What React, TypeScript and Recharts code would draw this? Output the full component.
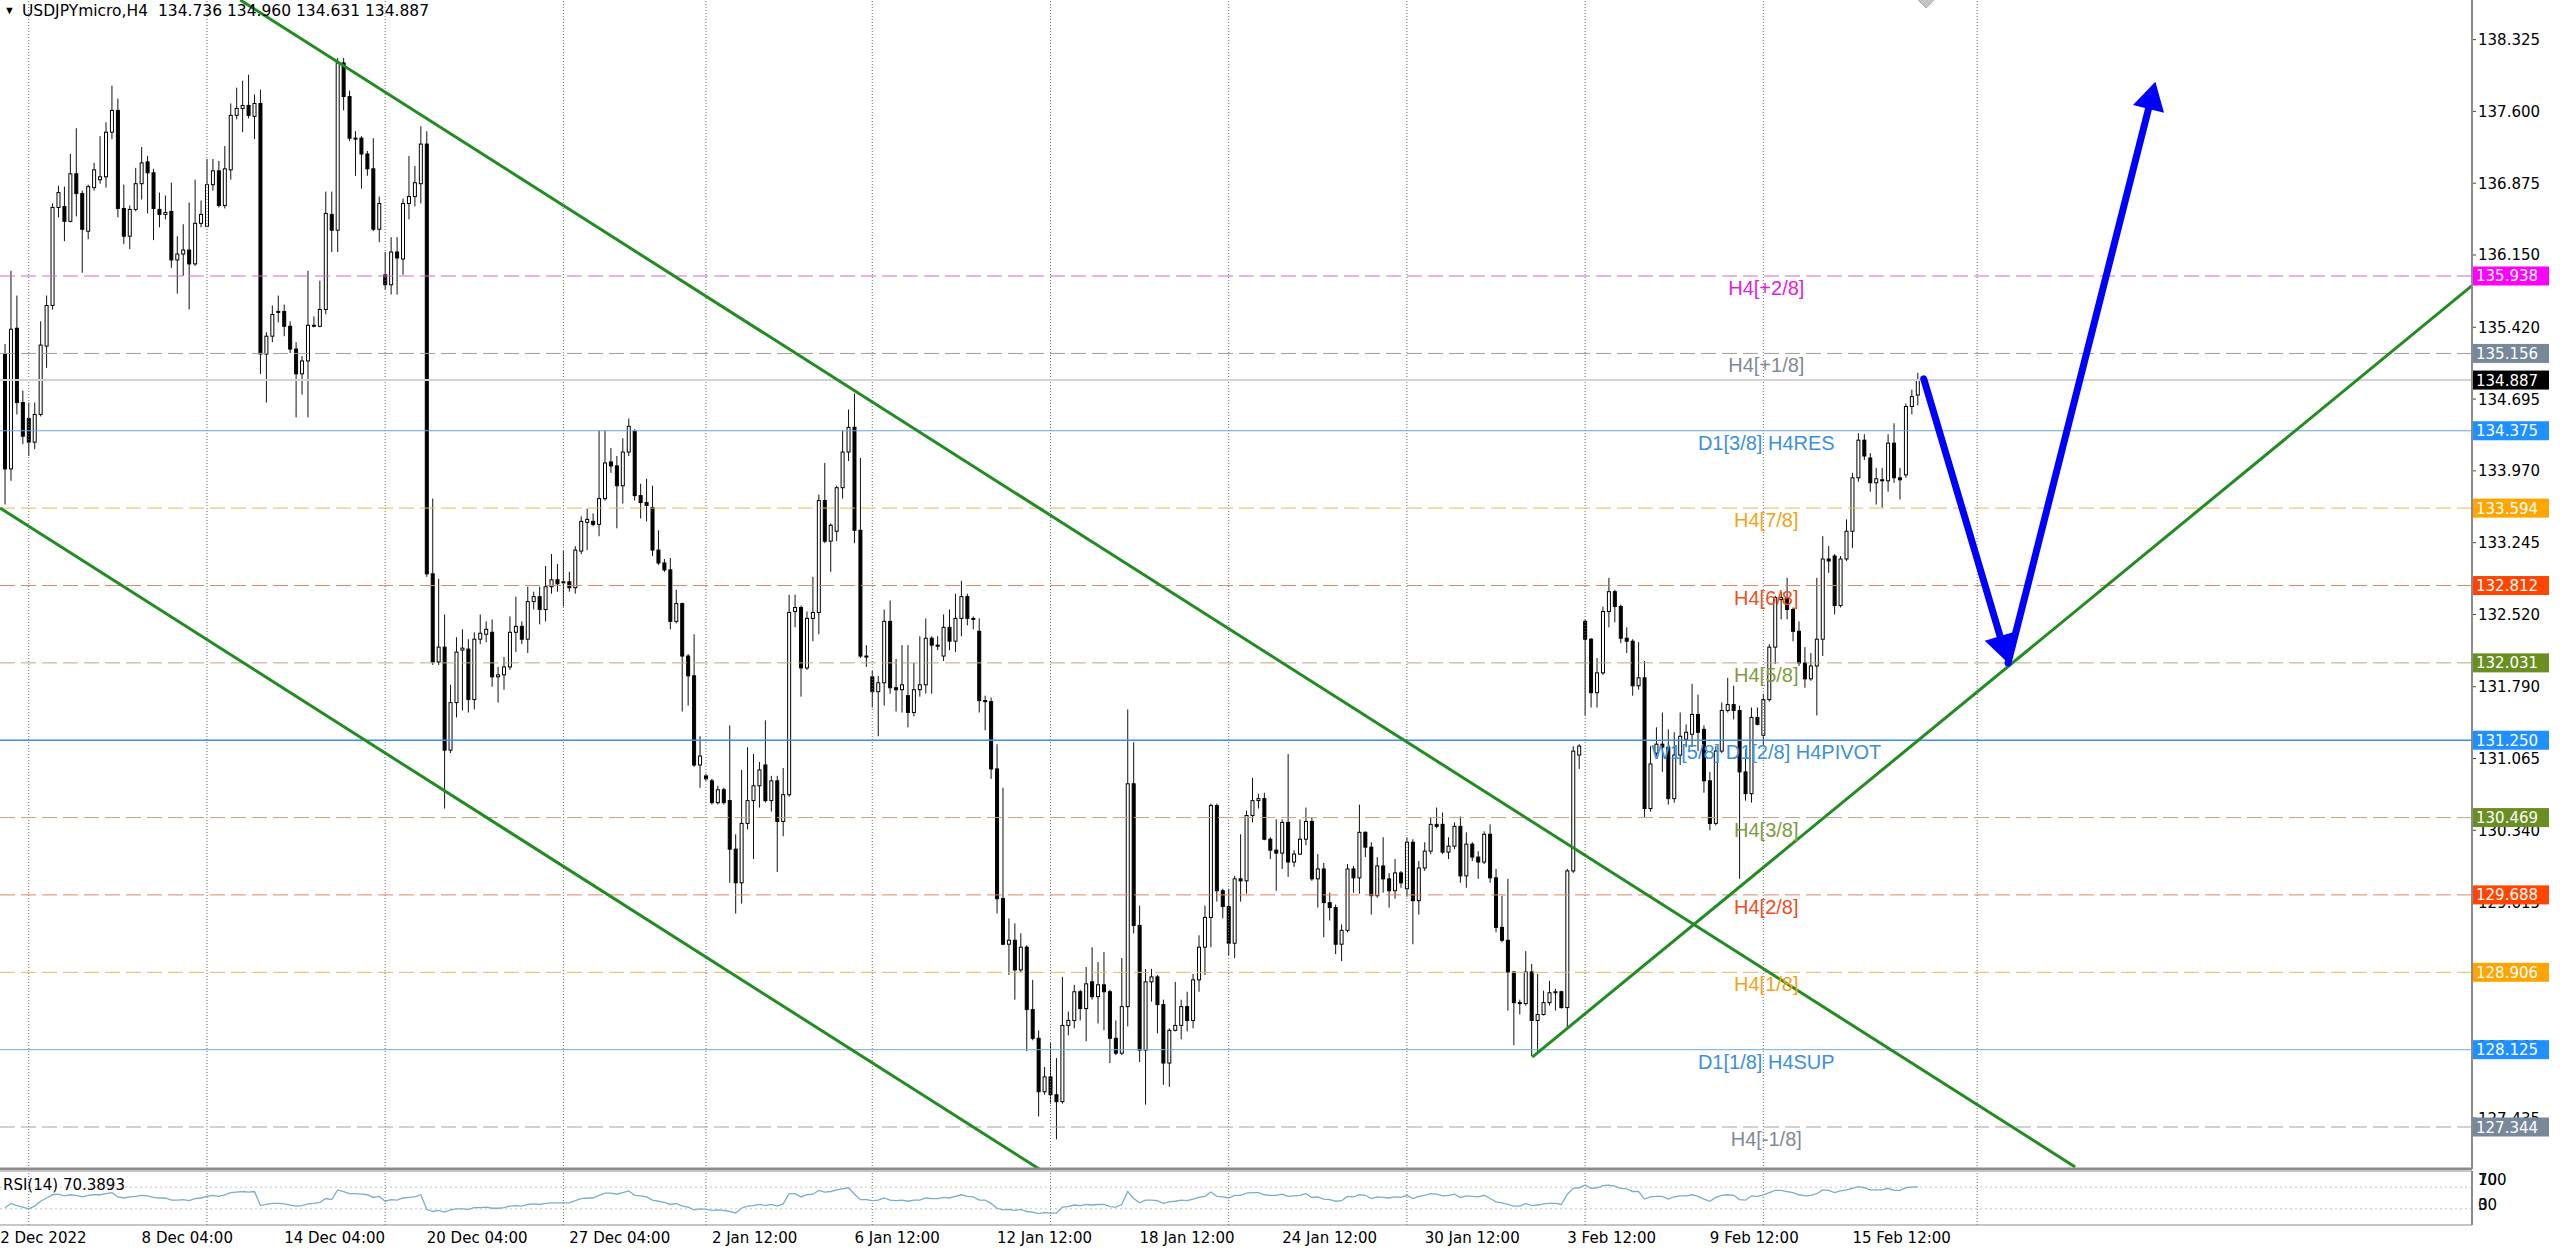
import { ComposedChart, Bar, Line, XAxis, YAxis, ReferenceLine, ReferenceDot } from "recharts"

// USDJPYmicro H4 candles, 2 Dec 2022 04:00 .. 17 Feb 2023
const opens = [
  135.15, 133.99, 135.41, 134.66, 134.50, 134.26, 134.54, 135.23, 135.64, 136.63,
  136.64, 136.49, 136.97, 136.77, 136.39, 136.83, 136.91, 136.94, 137.39, 137.61,
  136.62, 136.34, 136.61, 136.87, 137.09, 136.98, 136.61, 136.56, 136.59, 136.10,
  136.16, 136.20, 136.06, 136.47, 136.44, 136.86, 137.00, 136.65, 137.01, 137.56,
  137.63, 137.66, 137.55, 137.68, 135.15, 135.33, 135.57, 135.58, 135.43, 135.20,
  134.95, 135.08, 135.43, 135.43, 135.60, 136.56, 136.40, 138.09, 137.75, 137.33,
  137.33, 137.17, 137.02, 136.41, 135.95, 135.85, 136.18, 136.11, 136.67, 136.74,
  136.87, 137.27, 132.93, 132.04, 132.19, 131.15, 131.63, 132.16, 132.17, 131.66,
  132.27, 132.32, 132.34, 131.89, 131.91, 131.99, 132.34, 132.40, 132.27, 132.65,
  132.70, 132.57, 132.80, 132.87, 132.84, 132.85, 132.79, 133.16, 133.45, 133.46,
  133.43, 133.69, 134.06, 134.02, 133.82, 134.16, 134.37, 133.72, 133.65, 133.60,
  133.17, 133.04, 132.97, 132.45, 132.63, 132.10, 131.90, 131.00, 130.89, 130.84,
  130.62, 130.75, 130.64, 130.15, 129.81, 130.41, 130.64, 130.79, 131.00, 130.64,
  130.84, 130.43, 130.70, 132.55, 132.59, 131.98, 132.48, 132.54, 133.67, 133.26,
  133.36, 133.80, 134.16, 134.41, 133.37, 132.10, 131.89, 131.74, 131.83, 132.45,
  131.78, 131.76, 131.70, 131.53, 131.76, 131.81, 132.28, 132.21, 132.10, 132.39,
  132.25, 132.48, 132.70, 132.48, 132.35, 131.65, 131.64, 130.96, 129.65, 129.19,
  129.23, 128.93, 129.16, 128.53, 128.24, 127.70, 127.85, 127.67, 127.60, 128.37,
  128.42, 128.71, 128.54, 128.81, 128.66, 128.78, 128.71, 128.24, 128.09, 128.56,
  130.81, 129.38, 128.12, 128.81, 128.86, 128.58, 127.99, 128.32, 128.37, 128.56,
  128.42, 128.83, 129.16, 129.46, 130.59, 129.73, 129.57, 129.20, 129.85, 129.83,
  130.49, 130.64, 130.66, 130.25, 130.14, 130.11, 130.42, 130.02, 130.10, 130.25,
  130.43, 129.85, 129.95, 129.61, 129.56, 129.19, 129.33, 129.95, 129.86, 130.32,
  130.17, 129.68, 129.98, 129.85, 129.73, 129.91, 129.75, 130.22, 129.63, 129.96,
  130.13, 130.40, 130.40, 130.12, 130.18, 130.38, 129.88, 130.20, 130.07, 130.02,
  130.30, 129.86, 129.36, 129.23, 128.91, 128.60, 128.59, 128.91, 128.42, 128.48,
  128.60, 128.70, 128.71, 128.55, 129.93, 131.10, 132.45, 132.27, 131.73, 131.93,
  132.55, 132.75, 132.60, 132.28, 132.25, 131.80, 131.88, 130.56, 131.12, 131.21,
  131.18, 130.66, 131.10, 131.26, 131.31, 131.51, 131.36, 130.84, 130.41, 131.14,
  131.55, 131.61, 131.55, 130.93, 130.71, 131.48, 131.30, 131.66, 132.19, 132.67,
  132.69, 132.57, 132.35, 132.03, 131.87, 132.00, 132.27, 133.08, 133.11, 132.61,
  133.08, 133.36, 133.90, 134.28, 134.10, 133.85, 133.88, 133.87, 134.25, 133.90,
  133.93, 134.62, 134.736,
]

const highs = [
  135.25, 135.99, 135.74, 134.78, 134.66, 134.66, 135.48, 135.74, 136.67, 136.85,
  136.84, 137.17, 137.43, 136.80, 136.86, 137.08, 137.35, 137.49, 137.86, 137.73,
  136.86, 136.65, 137.03, 137.24, 137.15, 137.02, 136.78, 136.75, 136.88, 136.34,
  136.46, 136.68, 136.91, 136.70, 137.12, 137.12, 137.10, 137.25, 137.68, 137.84,
  137.91, 137.97, 137.77, 137.82, 135.37, 135.64, 135.74, 135.65, 135.48, 135.27,
  135.13, 135.99, 135.53, 135.89, 136.79, 136.79, 138.14, 138.14, 137.81, 137.40,
  137.35, 137.20, 137.33, 136.74, 136.18, 136.33, 136.33, 136.72, 137.15, 137.05,
  137.45, 137.40, 133.69, 132.88, 132.52, 131.81, 132.29, 132.37, 132.27, 132.34,
  132.52, 132.45, 132.47, 131.99, 132.09, 132.50, 132.70, 132.45, 132.80, 132.75,
  132.80, 133.01, 133.13, 133.03, 133.16, 132.95, 133.21, 133.51, 133.59, 133.54,
  134.38, 134.38, 134.20, 134.12, 134.30, 134.50, 134.39, 133.84, 133.89, 133.82,
  133.37, 133.08, 133.09, 132.77, 132.64, 132.12, 132.32, 131.29, 130.91, 130.86,
  130.79, 130.77, 131.40, 130.30, 130.95, 131.18, 131.11, 131.03, 131.45, 130.89,
  130.89, 130.97, 132.72, 132.72, 132.61, 132.55, 132.90, 133.73, 134.05, 133.44,
  133.82, 134.38, 134.59, 134.75, 134.10, 132.21, 131.95, 131.90, 132.57, 132.66,
  132.07, 132.21, 132.21, 132.03, 132.30, 132.48, 132.30, 132.30, 132.52, 132.57,
  132.73, 132.86, 132.73, 132.50, 132.48, 131.70, 131.68, 131.21, 130.77, 129.45,
  129.40, 129.30, 129.18, 128.83, 128.32, 127.95, 128.19, 128.04, 128.86, 128.51,
  128.78, 128.73, 128.96, 129.16, 129.01, 129.11, 128.73, 128.42, 129.05, 131.56,
  131.23, 129.58, 128.94, 128.94, 128.88, 128.63, 128.34, 128.81, 128.63, 128.71,
  128.89, 129.28, 129.58, 130.61, 130.61, 129.75, 129.75, 129.88, 130.30, 130.54,
  130.87, 130.71, 130.72, 130.27, 130.45, 130.45, 131.11, 130.14, 130.45, 130.57,
  130.47, 130.10, 130.01, 129.71, 129.59, 129.39, 130.00, 129.98, 130.60, 130.33,
  130.22, 130.07, 130.27, 129.91, 130.05, 129.93, 130.27, 130.25, 130.03, 130.22,
  130.47, 130.57, 130.52, 130.27, 130.42, 130.48, 130.32, 130.22, 130.13, 130.33,
  130.40, 129.95, 129.68, 129.85, 128.92, 128.63, 129.12, 128.99, 128.89, 128.72,
  128.82, 128.74, 128.72, 129.95, 131.19, 131.21, 132.47, 132.28, 132.08, 132.60,
  132.89, 132.77, 132.62, 132.39, 132.27, 132.24, 132.05, 131.19, 131.38, 131.53,
  131.36, 131.33, 131.53, 131.41, 131.82, 131.71, 131.40, 130.93, 131.19, 131.63,
  131.88, 131.80, 131.60, 131.16, 131.58, 131.58, 131.72, 132.22, 132.71, 132.75,
  132.89, 132.59, 132.45, 132.19, 132.13, 132.89, 133.31, 133.21, 133.13, 133.11,
  133.48, 133.95, 134.35, 134.34, 134.15, 134.00, 134.00, 134.34, 134.45, 134.00,
  134.65, 134.79, 134.960,
]

const lows = [
  133.63, 133.87, 134.54, 134.24, 134.12, 134.19, 134.52, 135.01, 135.60, 136.53,
  136.29, 136.48, 136.54, 135.97, 136.31, 136.80, 136.87, 136.83, 137.32, 136.53,
  136.26, 136.21, 136.59, 136.71, 136.57, 136.30, 136.43, 136.51, 136.02, 135.76,
  135.94, 135.60, 136.04, 136.43, 136.43, 136.80, 136.63, 136.62, 136.91, 137.52,
  137.39, 137.53, 137.32, 134.95, 134.66, 135.27, 135.47, 135.33, 135.16, 134.51,
  134.74, 134.51, 135.42, 135.42, 135.55, 136.18, 136.18, 137.61, 137.30, 136.95,
  136.82, 136.95, 136.39, 136.28, 135.80, 135.75, 135.75, 135.95, 136.51, 136.64,
  136.67, 132.90, 132.01, 132.01, 130.56, 131.12, 131.48, 131.55, 131.53, 131.56,
  132.22, 132.24, 131.79, 131.63, 131.76, 131.96, 132.14, 132.22, 132.13, 132.57,
  132.42, 132.45, 132.73, 132.75, 132.60, 132.75, 132.73, 133.13, 133.17, 133.41,
  133.31, 133.67, 133.95, 133.39, 133.64, 134.12, 133.67, 133.49, 133.46, 133.11,
  133.02, 132.95, 132.37, 132.43, 131.54, 131.60, 130.98, 130.77, 130.84, 130.60,
  130.60, 130.60, 129.81, 129.50, 129.60, 130.35, 130.05, 130.57, 130.62, 130.53,
  129.92, 130.28, 130.68, 132.39, 131.69, 131.96, 132.25, 132.32, 133.24, 132.95,
  133.26, 133.69, 134.07, 133.24, 132.08, 131.99, 131.58, 131.29, 131.60, 131.72,
  131.54, 131.53, 131.38, 131.49, 131.69, 131.72, 131.72, 132.16, 132.05, 132.16,
  132.14, 132.30, 132.41, 132.37, 131.53, 131.35, 130.86, 129.50, 129.18, 128.88,
  128.63, 128.91, 128.11, 128.22, 127.45, 127.67, 127.58, 127.22, 127.58, 128.27,
  128.34, 128.42, 128.21, 128.63, 128.39, 128.32, 127.99, 128.07, 128.07, 128.36,
  129.30, 128.00, 127.57, 128.61, 128.29, 127.77, 127.75, 128.31, 128.23, 128.31,
  128.34, 128.71, 128.88, 129.16, 129.62, 129.45, 129.08, 129.05, 129.62, 129.70,
  130.42, 130.56, 130.24, 130.05, 129.73, 129.95, 129.87, 129.97, 130.09, 130.19,
  129.83, 129.56, 129.26, 129.43, 129.09, 129.02, 129.31, 129.71, 129.70, 130.07,
  129.49, 129.66, 129.71, 129.56, 129.65, 129.76, 129.67, 129.19, 129.49, 129.93,
  130.10, 130.36, 130.10, 130.05, 130.15, 129.81, 129.76, 130.03, 129.85, 130.00,
  129.81, 129.31, 129.21, 128.52, 128.17, 128.48, 128.57, 128.06, 128.09, 128.47,
  128.57, 128.52, 128.54, 128.33, 129.91, 130.96, 131.50, 131.58, 131.58, 131.91,
  132.39, 132.44, 132.23, 132.13, 131.70, 131.76, 130.47, 130.53, 131.09, 130.93,
  130.60, 130.62, 131.00, 131.18, 131.18, 131.14, 130.72, 130.34, 130.39, 131.12,
  131.53, 131.46, 129.85, 130.64, 130.62, 131.40, 131.20, 131.64, 132.02, 132.47,
  132.47, 132.25, 132.00, 131.78, 131.85, 131.50, 132.10, 132.94, 132.52, 132.59,
  133.06, 133.19, 133.86, 134.08, 133.76, 133.63, 133.60, 133.76, 133.85, 133.68,
  133.90, 134.54, 134.631,
]

const closes = [
  133.99, 135.40, 134.66, 134.32, 134.26, 134.54, 135.24, 135.64, 136.63, 136.78,
  136.49, 136.97, 136.77, 136.41, 136.84, 137.01, 136.94, 137.39, 137.61, 136.62,
  136.34, 136.61, 136.87, 137.08, 136.98, 136.62, 136.56, 136.58, 136.10, 136.16,
  136.20, 136.06, 136.47, 136.56, 136.86, 137.00, 136.65, 137.02, 137.56, 137.63,
  137.66, 137.56, 137.68, 135.15, 135.33, 135.55, 135.58, 135.43, 135.20, 134.95,
  135.08, 135.44, 135.44, 135.60, 136.57, 136.40, 138.09, 137.75, 137.33, 137.32,
  137.17, 137.02, 136.41, 136.67, 135.85, 136.18, 136.12, 136.67, 136.74, 136.88,
  137.27, 132.93, 132.04, 132.19, 131.15, 131.63, 132.14, 132.18, 131.66, 132.27,
  132.33, 132.37, 131.89, 131.91, 131.99, 132.34, 132.40, 132.27, 132.65, 132.70,
  132.57, 132.80, 132.87, 132.83, 132.85, 132.79, 133.17, 133.46, 133.48, 133.43,
  133.69, 134.05, 134.02, 133.82, 134.16, 134.42, 133.72, 133.65, 133.62, 133.17,
  133.04, 132.97, 132.45, 132.63, 132.10, 131.90, 131.00, 131.09, 130.86, 130.62,
  130.75, 130.62, 130.15, 129.81, 130.41, 130.64, 130.79, 130.95, 130.64, 130.84,
  130.43, 130.70, 132.54, 132.59, 131.98, 132.48, 132.54, 133.67, 133.26, 133.42,
  133.80, 134.16, 134.41, 133.37, 132.10, 132.09, 131.74, 131.83, 132.45, 131.78,
  131.76, 131.81, 131.53, 131.76, 131.81, 132.28, 132.21, 132.20, 132.39, 132.25,
  132.48, 132.70, 132.48, 132.48, 131.65, 131.64, 130.96, 129.65, 129.19, 129.23,
  128.93, 129.16, 128.53, 128.24, 127.70, 127.85, 127.67, 127.60, 128.37, 128.42,
  128.71, 128.54, 128.79, 128.66, 128.78, 128.71, 128.24, 128.09, 128.56, 130.81,
  129.38, 128.12, 128.81, 128.86, 128.58, 127.99, 128.32, 128.37, 128.56, 128.42,
  128.83, 129.16, 129.46, 130.59, 129.73, 129.57, 129.20, 129.85, 129.83, 130.49,
  130.64, 130.66, 130.25, 130.14, 130.11, 130.42, 130.02, 130.10, 130.25, 130.43,
  129.85, 129.95, 129.61, 129.56, 129.19, 129.33, 129.95, 129.86, 130.32, 130.17,
  129.68, 129.98, 129.85, 129.73, 129.91, 129.81, 130.22, 129.63, 129.96, 130.13,
  130.40, 130.38, 130.12, 130.18, 130.38, 129.88, 130.20, 130.07, 130.02, 130.30,
  129.86, 129.36, 129.23, 128.91, 128.60, 128.59, 128.91, 128.42, 128.48, 128.60,
  128.70, 128.71, 128.55, 129.93, 131.14, 131.19, 132.27, 131.73, 131.93, 132.55,
  132.75, 132.60, 132.28, 132.25, 131.80, 131.88, 130.56, 131.01, 131.21, 131.18,
  130.66, 131.10, 131.29, 131.33, 131.51, 131.33, 130.84, 130.41, 131.14, 131.55,
  131.61, 131.55, 130.93, 130.71, 131.48, 131.41, 131.66, 132.19, 132.69, 132.69,
  132.57, 132.35, 132.03, 131.87, 132.00, 132.27, 133.08, 133.06, 132.61, 133.08,
  133.36, 133.90, 134.28, 134.12, 133.85, 133.89, 133.87, 134.25, 133.90, 133.88,
  134.62, 134.72, 134.887,
]

const rsiValues = [
  32, 40, 36, 33, 30, 35, 44, 50, 56, 57,
  54, 56, 55, 52, 55, 56, 56, 58, 60, 52,
  50, 52, 53, 55, 54, 51, 50, 50, 46, 46,
  47, 45, 49, 50, 53, 55, 53, 56, 60, 61,
  62, 61, 62, 36, 38, 40, 40, 39, 37, 35,
  36, 39, 40, 42, 49, 47, 65, 62, 58, 58,
  57, 56, 51, 53, 44, 47, 46, 50, 51, 52,
  56, 29, 25, 27, 24, 28, 30, 30, 29, 32,
  32, 33, 31, 31, 32, 35, 36, 35, 38, 39,
  38, 40, 41, 41, 41, 41, 45, 49, 50, 50,
  55, 59, 59, 57, 60, 63, 55, 54, 52, 46,
  44, 42, 38, 40, 35, 33, 28, 30, 29, 27,
  28, 27, 25, 22, 31, 35, 36, 38, 36, 38,
  35, 39, 58, 58, 52, 56, 57, 64, 61, 62,
  65, 67, 69, 57, 47, 47, 45, 46, 50, 46,
  45, 46, 44, 46, 46, 50, 49, 49, 51, 50,
  53, 56, 53, 52, 46, 46, 40, 31, 28, 29,
  27, 29, 25, 24, 21, 23, 22, 22, 33, 34,
  37, 36, 38, 37, 38, 38, 34, 33, 38, 62,
  49, 41, 46, 46, 45, 40, 43, 44, 46, 45,
  48, 51, 53, 61, 53, 52, 50, 55, 55, 59,
  60, 60, 56, 55, 55, 57, 53, 54, 55, 58,
  51, 52, 48, 47, 44, 45, 53, 52, 56, 55,
  49, 52, 51, 50, 52, 51, 55, 49, 53, 55,
  58, 57, 54, 55, 57, 51, 54, 53, 52, 55,
  49, 43, 41, 38, 35, 35, 40, 36, 37, 39,
  40, 40, 38, 57, 68, 69, 74, 68, 69, 73,
  74, 72, 68, 67, 62, 62, 48, 52, 53, 53,
  48, 52, 54, 54, 56, 53, 48, 44, 51, 55,
  56, 55, 47, 46, 54, 53, 56, 60, 64, 64,
  62, 60, 56, 54, 55, 58, 65, 64, 60, 63,
  65, 68, 71, 69, 65, 65, 65, 68, 64, 64,
  69, 70, 70.39,
]

// price levels (Murrey / pivot lines) and their captions
const levelPrices = [135.938, 135.156, 134.375, 133.594, 132.812, 132.031, 131.25, 130.469, 129.688, 128.906, 128.125, 127.344]
const levelNames = [
  "H4[+2/8]", "H4[+1/8]", "D1[3/8] H4RES", "H4[7/8]", "H4[6/8]", "H4[5/8]",
  "W1[5/8] D1[2/8] H4PIVOT", "H4[3/8]", "H4[2/8]", "H4[1/8]", "D1[1/8] H4SUP", "H4[-1/8]",
]
const lastPrice = 134.887

const priceTicks = [127.435, 128.16, 128.885, 129.615, 130.34, 131.065, 131.79, 132.52, 133.245, 133.97, 134.695, 135.42, 136.15, 136.875, 137.6, 138.325]
const rsiTicks = [0, 30, 70, 100]

const timeLabels = [
  "2 Dec 2022", "8 Dec 04:00", "14 Dec 04:00", "20 Dec 04:00", "27 Dec 04:00", "2 Jan 12:00", "6 Jan 12:00",
  "12 Jan 12:00", "18 Jan 12:00", "24 Jan 12:00", "30 Jan 12:00", "3 Feb 12:00", "9 Feb 12:00", "15 Feb 12:00",
]
const timeLabelBars = [-0.8, 23, 47, 71, 95, 119, 143, 167, 191, 215, 239, 263, 287, 311]
const weekSeparators = [4, 34, 64, 94, 118, 146, 176, 206, 236, 266, 296, 332]

// drawn objects: trend channel, support line, forecast arrow
const upperChannel = [{ bar: 39.6, price: 138.725 }, { bar: 348.5, price: 126.94 }]
const lowerChannel = [{ bar: -0.84, price: 133.595 }, { bar: 174.1, price: 126.92 }]
const supportLine = [{ bar: 257.1, price: 128.05 }, { bar: 415.3, price: 135.84 }]
const forecastPath = [{ bar: 323, price: 134.9 }, { bar: 337.2, price: 132.03 }, { bar: 362, price: 137.9 }]

const X_DOMAIN: [number, number] = [-0.84, 415.3]
const Y_DOMAIN: [number, number] = [126.92, 138.725]
const LABEL_BAR = 296.5

const candles = opens.map((o, i) => ({
  bar: i, o, h: highs[i], l: lows[i], c: closes[i], range: [lows[i], highs[i]],
}))
const rsiRows = rsiValues.map((v, i) => ({ bar: i, rsi: v }))

const UI_FONT = '"DejaVu Sans", Verdana, sans-serif'
const LABEL_FONT = '"Liberation Sans", Arial, sans-serif'

const levelLook = [
  { line: "#d465d4", dash: "15 6", text: "#e01ee0", box: "#ff00ff" },
  { line: "#9c9c9c", dash: "15 6", text: "#7f8994", box: "#778899" },
  { line: "#6aa5da", dash: undefined, text: "#3a90dc", box: "#1e90ff" },
  { line: "#e4b75c", dash: "15 6", text: "#f2a418", box: "#ffa500" },
  { line: "#d38a66", dash: "15 6", text: "#ee4f1c", box: "#ff4500" },
  { line: "#bca984", dash: "15 6", text: "#7f9b40", box: "#6b8e23" },
  { line: "#3d8de0", dash: undefined, text: "#3a90dc", box: "#1e90ff" },
  { line: "#bca984", dash: "15 6", text: "#7f9b40", box: "#6b8e23" },
  { line: "#d38a66", dash: "15 6", text: "#ee4f1c", box: "#ff4500" },
  { line: "#e4b75c", dash: "15 6", text: "#f2a418", box: "#ffa500" },
  { line: "#6aaed9", dash: undefined, text: "#3a90dc", box: "#1e90ff" },
  { line: "#a2a2a2", dash: "15 6", text: "#7f8994", box: "#778899" },
]

function Candle(props: any) {
  const { x, y, width, height, payload } = props
  if (x == null || payload == null) return null
  const cx = x + width / 2
  const top = Math.min(y, y + height)
  const span = Math.abs(height)
  const { o, h, l, c } = payload
  const toY = (p: number) => (h === l ? top : top + ((h - p) / (h - l)) * span)
  const bodyTop = toY(Math.max(o, c))
  const bodyH = Math.max(1, toY(Math.min(o, c)) - bodyTop)
  return (
    <g>
      <line x1={cx} x2={cx} y1={top} y2={top + span} stroke="#111" strokeWidth={1} />
      <rect x={cx - 1.5} y={bodyTop} width={3} height={bodyH} fill={c >= o ? "#fff" : "#000"} stroke="#000" strokeWidth={1} />
    </g>
  )
}

// right-hand price scale text with its small tick mark
function priceTick(value: number) {
  return (p: any) => {
    const vb = p.viewBox ?? p
    const x = vb.x + vb.width
    return (
      <g>
        <line x1={x} x2={x + 4} y1={vb.y} y2={vb.y} stroke="#444" />
        <text x={x + 6} y={vb.y + 5.5} fontSize={15} fontFamily={UI_FONT} fill="#000">{value.toFixed(3)}</text>
      </g>
    )
  }
}

function priceBox(value: number, fill: string) {
  return (p: any) => {
    const vb = p.viewBox ?? p
    const x = vb.x + vb.width + 1
    return (
      <g>
        <rect x={x} y={vb.y - 9.5} width={76} height={19} fill={fill} />
        <text x={x + 3} y={vb.y + 5.5} fontSize={15} fontFamily={UI_FONT} fill="#fff">{value.toFixed(3)}</text>
      </g>
    )
  }
}

function ArrowSeg(props: any) {
  const { x1, y1, x2, y2 } = props
  const dx = x2 - x1
  const dy = y2 - y1
  const len = Math.hypot(dx, dy) || 1
  const ux = dx / len
  const uy = dy / len
  const headL = 28
  const headW = 16
  const bx = x2 - ux * headL
  const by = y2 - uy * headL
  return (
    <g>
      <line x1={x1} y1={y1} x2={bx} y2={by} stroke="#0000ff" strokeWidth={7} strokeLinecap="round" />
      <polygon points={`${x2},${y2} ${bx - uy * headW},${by + ux * headW} ${bx + uy * headW},${by - ux * headW}`} fill="#0000ff" />
    </g>
  )
}

function TimeTick(props: any) {
  const { x, y, payload } = props
  const i = timeLabelBars.indexOf(payload.value)
  return (
    <text x={Math.max(0, x)} y={y + 16} fontSize={15} fontFamily={UI_FONT} fill="#000">
      {timeLabels[i]}
    </text>
  )
}

function RsiTick(props: any) {
  const { x, y, payload } = props
  // the panel is tiny, so MT4 stacks 100/70 and 30/0 on top of each other
  const shift: Record<number, number> = { 100: 14, 70: -2, 30: 1, 0: -15 }
  return (
    <text x={x + 4} y={y + (shift[payload.value] ?? 0)} fontSize={15} fontFamily={UI_FONT} fill="#000">
      {payload.value}
    </text>
  )
}

const seg = (pts: { bar: number; price: number }[]) => pts.map((p) => ({ x: p.bar, y: p.price }))

export default function App() {
  return (
    <div style={{ position: "absolute", left: 0, top: 0, width: 2560, height: 1254, background: "#fff", overflow: "hidden" }}>
      <div style={{ position: "absolute", left: 0, top: 0 }}>
        <ComposedChart width={2560} height={1171} data={candles} margin={{ top: 0, right: 0, bottom: 2, left: 0 }}>
          <XAxis dataKey="bar" type="number" domain={X_DOMAIN} allowDataOverflow hide />
          <YAxis
            orientation="right"
            width={88}
            domain={Y_DOMAIN}
            allowDataOverflow
            ticks={priceTicks}
            tick={false}
            tickLine={false}
            axisLine={{ stroke: "#8c8c8c", strokeWidth: 2 }}
          />
          {weekSeparators.map((b) => (
            <ReferenceLine key={`w${b}`} x={b} stroke="#6a6a6a" strokeDasharray="1 2" />
          ))}
          {priceTicks.map((t) => (
            <ReferenceLine key={`pt${t}`} y={t} stroke="none" label={priceTick(t)} />
          ))}
          <ReferenceLine y={lastPrice} stroke="#d2d2d2" strokeWidth={2} label={priceBox(lastPrice, "#000")} />
          {levelPrices.map((p, i) => (
            <ReferenceLine
              key={`l${p}`}
              y={p}
              stroke={levelLook[i].line}
              strokeWidth={i === 6 ? 1.5 : 1}
              strokeDasharray={levelLook[i].dash}
              label={priceBox(p, levelLook[i].box)}
            />
          ))}
          {levelPrices.map((p, i) => (
            <ReferenceDot
              key={`t${p}`}
              x={LABEL_BAR}
              y={p}
              r={0}
              shape={(d: any) => (
                <text x={d.cx} y={d.cy + 19} textAnchor="middle" fontSize={20} fontFamily={LABEL_FONT} fill={levelLook[i].text}>
                  {levelNames[i]}
                </text>
              )}
            />
          ))}
          <Bar dataKey="range" barSize={4} shape={Candle} isAnimationActive={false} />
          <ReferenceLine segment={seg(upperChannel)} stroke="#228b22" strokeWidth={3} ifOverflow="visible" />
          <ReferenceLine segment={seg(lowerChannel)} stroke="#228b22" strokeWidth={3} ifOverflow="visible" />
          <ReferenceLine segment={seg(supportLine)} stroke="#228b22" strokeWidth={3} ifOverflow="visible" />
          <ReferenceLine segment={seg(forecastPath.slice(0, 2))} shape={ArrowSeg} ifOverflow="visible" />
          <ReferenceLine segment={seg(forecastPath.slice(1, 3))} shape={ArrowSeg} ifOverflow="visible" />
          <ReferenceDot
            x={323.4}
            y={Y_DOMAIN[1]}
            r={0}
            shape={(d: any) => (
              <polygon points={`${d.cx - 10},${d.cy - 2} ${d.cx},${d.cy - 12} ${d.cx + 10},${d.cy - 2} ${d.cx},${d.cy + 8}`} fill="#c4c4c4" stroke="#a8a8a8" />
            )}
          />
          <ReferenceLine y={Y_DOMAIN[0]} stroke="#8c8c8c" strokeWidth={3} />
        </ComposedChart>
      </div>
      <div style={{ position: "absolute", left: 0, top: 1171 }}>
        <ComposedChart width={2560} height={83} data={rsiRows} margin={{ top: 0, right: 0, bottom: 0, left: 0 }}>
          <XAxis
            dataKey="bar"
            type="number"
            domain={X_DOMAIN}
            allowDataOverflow
            ticks={timeLabelBars}
            interval={0}
            tick={<TimeTick />}
            tickLine={false}
            tickSize={0}
            height={29}
            axisLine={{ stroke: "#8c8c8c" }}
          />
          <YAxis
            orientation="right"
            width={88}
            domain={[0, 100]}
            ticks={rsiTicks}
            interval={0}
            tick={<RsiTick />}
            tickLine={false}
            tickSize={0}
            axisLine={{ stroke: "#8c8c8c", strokeWidth: 2 }}
          />
          {weekSeparators.map((b) => (
            <ReferenceLine key={`rw${b}`} x={b} stroke="#6a6a6a" strokeDasharray="1 2" />
          ))}
          <ReferenceLine y={70} stroke="#c4c4c4" strokeDasharray="2 3" />
          <ReferenceLine y={30} stroke="#c4c4c4" strokeDasharray="2 3" />
          <ReferenceLine y={100} stroke="#8c8c8c" />
          <Line dataKey="rsi" type="linear" stroke="#78aec6" strokeWidth={1.3} dot={false} isAnimationActive={false} />
        </ComposedChart>
      </div>
      <div style={{ position: "absolute", left: 4, top: 4, fontSize: 11, lineHeight: "12px" }}>▼</div>
      <div style={{ position: "absolute", left: 22, top: 2, font: `15.5px ${UI_FONT}`, whiteSpace: "pre", color: "#000" }}>
        USDJPYmicro,H4  134.736 134.960 134.631 134.887
      </div>
      <div style={{ position: "absolute", left: 3, top: 1176, font: `15px ${UI_FONT}`, color: "#000" }}>RSI(14) 70.3893</div>
    </div>
  )
}
